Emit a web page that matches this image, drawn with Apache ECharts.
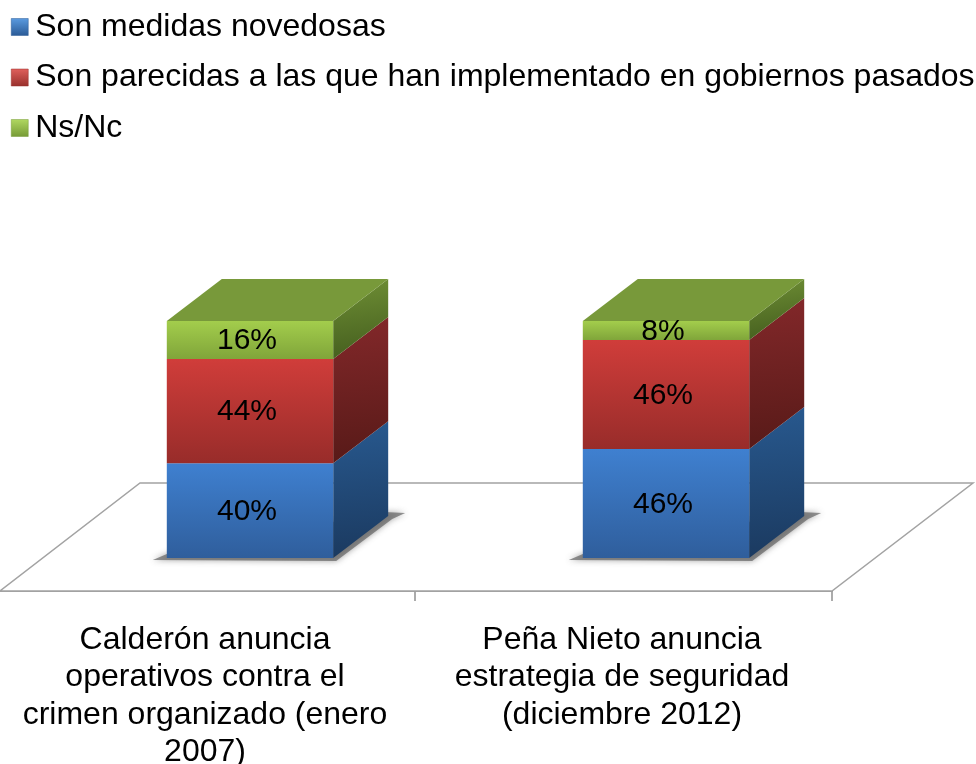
<!DOCTYPE html>
<html>
<head>
<meta charset="utf-8">
<style>html,body{margin:0;padding:0;background:#fff}#c{width:976px;height:764px}</style>
<script src="https://cdn.jsdelivr.net/npm/echarts@6/dist/echarts.min.js"></script>
</head>
<body>
<div id="c"></div>
<script>
const categories = [
  'Calderón anuncia\noperativos contra el\ncrimen organizado (enero\n2007)',
  'Peña Nieto anuncia\nestrategia de seguridad\n(diciembre 2012)'
];
const seriesNames = ['Son medidas novedosas', 'Son parecidas a las que han implementado en gobiernos pasados', 'Ns/Nc'];
const medidas = [40, 46];
const parecidas = [44, 46];
const nsnc = [16, 8];

const FONT = '"Liberation Sans", Arial, sans-serif';
const DX = 55, DY = 42;
const grad = (x2, y2, a, b) => ({type:'linear', x:0, y:0, x2, y2, colorStops:[{offset:0,color:a},{offset:1,color:b}]});
const palettes = [
  {front:['#3f80d0','#2f5e9c'], side:['#28598f','#1b3a60'], legend:['#5b9be0','#2a5a96']},
  {front:['#d03d3a','#982c2a'], side:['#83282a','#581a18'], legend:['#e0605c','#98302c']},
  {front:['#a3cd4c','#80a53a'], side:['#6f8f35','#46601f'], top:'#78993a', legend:['#b0d860','#769a36']}
];

function makeRender(p, isBottom, isTop) {
  return function (params, api) {
    const size = api.size([1, 0])[0] * 0.4;
    const c0 = api.coord([api.value(0), api.value(1)]);
    const c1 = api.coord([api.value(0), api.value(2)]);
    const l = c0[0] - size / 2, r = c0[0] + size / 2, b = c0[1], t = c1[1];
    const children = [];
    if (isBottom) {
      children.push({type:'polygon', silent:true,
        shape:{points:[[l-14,b+2],[r+3,b+3],[r+DX+4,b-DY+3],[r+DX+17,b-DY-3],[r+DX-4,b-DY-4],[l,b-4]]},
        style:{fill:'rgba(90,90,90,0.65)', shadowBlur:6, shadowColor:'rgba(80,80,80,0.8)'}});
    }
    children.push({type:'polygon', silent:true,
      shape:{points:[[r,b],[r+DX,b-DY],[r+DX,t-DY],[r,t]]},
      style:{fill:grad(0.2,1,p.side[0],p.side[1])}});
    if (isTop) {
      children.push({type:'polygon', silent:true,
        shape:{points:[[l,t],[l+DX,t-DY],[r+DX,t-DY],[r,t]]},
        style:{fill:p.top}});
    }
    children.push({type:'rect', silent:true,
      shape:{x:l, y:t, width:r-l, height:b-t},
      style:{fill:grad(0,1,p.front[0],p.front[1])}});
    children.push({type:'text', silent:true, x:c0[0]-3, y:(b+t)/2+1,
      style:{text:Math.round(api.value(2)-api.value(1))+'%', fill:'#000', font:'30px '+FONT, textAlign:'center', textVerticalAlign:'middle'}});
    return {type:'group', children};
  };
}

const stacks = [medidas, parecidas, nsnc];
const running = categories.map(() => 0);
const barSeries = stacks.map((vals, s) => {
  const data = vals.map((v, i) => { const d = [i, running[i], running[i] + v]; running[i] += v; return d; });
  return {
    type:'custom', name:seriesNames[s], xAxisIndex:0, yAxisIndex:0, z:5,
    itemStyle:{color:palettes[s].front[0]},
    encode:{x:0, y:[1,2]}, data,
    renderItem:makeRender(palettes[s], s===0, s===stacks.length-1)
  };
});

const floorSeries = {
  type:'custom', xAxisIndex:1, yAxisIndex:1, z:1, silent:true, data:[[0,0]],
  renderItem(params) {
    const g = params.coordSys;
    const l = g.x+2, r = g.x+g.width, t = g.y, b = g.y+g.height;
    return {type:'polygon', shape:{points:[[l,b],[l+140,t],[r+141,t],[r,b]]},
      style:{fill:'#fff', stroke:'#a3a3a3', lineWidth:1.5}};
  }
};

const chart = echarts.init(document.getElementById('c'), null, {renderer:'canvas'});
chart.setOption({
  animation:false,
  backgroundColor:'#fff',
  legend:{
    orient:'vertical', left:6, top:6, itemWidth:17, itemHeight:17, itemGap:18.5, icon:'rect',
    selectedMode:false,
    textStyle:{fontFamily:FONT, fontSize:32, color:'#000', padding:[0,0,0,2]},
    data:seriesNames.map((n,i)=>({name:n, icon:'rect',
      itemStyle:{color:grad(0,1,palettes[i].legend[0],palettes[i].legend[1]), borderColor:palettes[i].legend[1], borderWidth:0.5}}))
  },
  grid:[
    {left:42, width:832, top:321, height:237, outerBoundsMode:'none'},
    {left:-2, width:834, top:483, height:108, outerBoundsMode:'none'}
  ],
  xAxis:[
    {type:'category', gridIndex:0, data:categories, show:false},
    {type:'category', gridIndex:1, data:categories,
      axisLine:{lineStyle:{color:'#a3a3a3', width:2}},
      axisTick:{show:true, length:10, alignWithLabel:false, lineStyle:{color:'#909090', width:1.5}},
      axisLabel:{interval:0, margin:30, color:'#000', fontFamily:FONT, fontSize:32, lineHeight:37.5, verticalAlign:'top', align:'center', padding:[0,3,0,0]}
    }
  ],
  yAxis:[
    {type:'value', gridIndex:0, min:0, max:100, show:false},
    {type:'value', gridIndex:1, min:0, max:1, show:false}
  ],
  series:[floorSeries].concat(barSeries)
});
</script>
</body>
</html>
